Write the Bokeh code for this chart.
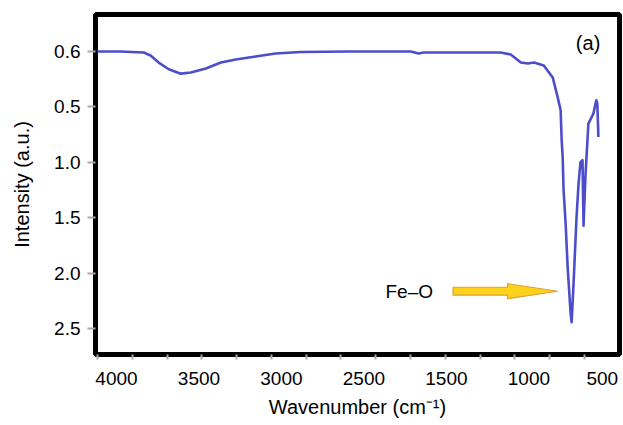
import numpy as np
from bokeh.plotting import figure
from bokeh.models import Range1d, FixedTicker, Label
from bokeh.embed import file_html
from bokeh.resources import INLINE

# ---- tick labels as printed on the original figure ----
X_TICK_LABELS = ["4000", "3500", "3000", "2500", "1500", "1000", "500"]
X_TICK_VALUES = [4000, 3500, 3000, 2500, 1500, 1000, 500]
# the printed axis spaces its labels evenly; their place along the axis:
X_AXIS_POS = [4000, 3500, 3000, 2500, 2000, 1500, 1055]
Y_TICK_VALUES = [0.0, 0.5, 1.0, 1.5, 2.0, 2.5]
Y_TICK_LABELS = ["0.6", "0.5", "1.0", "1.5", "2.0", "2.5"]

# ---- FTIR spectrum ----
wavenumber = [4116, 3976, 3835, 3793, 3744, 3683, 3610, 3549, 3458, 3367,
              3277, 3157, 3036, 2884, 2579, 1934, 1837, 1777, 1633, 1354,
              1171, 1110, 1049, 1006, 966, 899, 838, 804, 784, 777,
              770, 764, 750, 736, 716, 709, 696, 676, 662, 649,
              635, 628, 615, 595, 561, 541, 534, 527]
intensity = [0.00, 0.00, 0.01, 0.036, 0.10, 0.16, 0.20, 0.19, 0.153, 0.10,
             0.072, 0.045, 0.018, 0.005, 0.00, 0.00, 0.018, 0.01, 0.01, 0.01,
             0.01, 0.027, 0.10, 0.108, 0.10, 0.126, 0.234, 0.414, 0.53, 0.80,
             0.955, 1.25, 1.55, 1.95, 2.36, 2.44, 2.09, 1.50, 1.19, 1.00,
             0.98, 1.57, 1.12, 0.65, 0.56, 0.44, 0.47, 0.77]

# ---- annotations ----
ANNOT_TEXT = "Fe\u2013O"
PANEL_TEXT = "(a)"
ARROW_TAIL = 1460
ARROW_NECK = 1130
ARROW_TIP = 805
ARROW_Y = 2.16
PANEL_X = 514
PANEL_Y = -0.072

FONT = "Liberation Sans"

# mapping from wavenumber to the place on the printed axis
_src = np.array([0] + X_TICK_VALUES[::-1] + [5000], dtype=float)
_dst = np.array([610] + X_AXIS_POS[::-1] + [5000], dtype=float)


def to_axis(w):
    return np.interp(np.asarray(w, dtype=float), _src, _dst)


p = figure(width=623, height=425, output_backend="svg", toolbar_location=None,
           x_range=Range1d(4127, 951), y_range=Range1d(2.73, -0.333),
           min_border_left=95, min_border_right=4, min_border_top=14,
           min_border_bottom=71)
p.grid.visible = False
p.background_fill_color = "white"
p.border_fill_color = "white"
p.outline_line_color = "black"
p.outline_line_width = 5

# x axis
xa = p.xaxis[0]
xa.ticker = FixedTicker(ticks=X_AXIS_POS,
                        minor_ticks=list(np.linspace(4115, 1164, 15)))
xa.major_label_overrides = {pos: lbl for pos, lbl in zip(X_AXIS_POS, X_TICK_LABELS)}
xa.axis_line_color = None
xa.major_tick_line_color = None
xa.major_tick_out = 0
xa.major_tick_in = 0
xa.minor_tick_out = 5
xa.minor_tick_in = 0
xa.minor_tick_line_color = "#aaaaaa"
xa.minor_tick_line_width = 2
xa.major_label_standoff = 12
xa.major_label_text_font = FONT
xa.major_label_text_font_size = "19px"
xa.major_label_text_color = "black"
xa.axis_label = "Wavenumber (cm\u207b\u00b9)"
xa.axis_label_text_font = FONT
xa.axis_label_text_font_size = "20px"
xa.axis_label_text_font_style = "normal"
xa.axis_label_text_color = "black"
xa.axis_label_standoff = 8

# y axis
ya = p.yaxis[0]
ya.ticker = FixedTicker(ticks=Y_TICK_VALUES, minor_ticks=[])
ya.major_label_overrides = {v: lbl for v, lbl in zip(Y_TICK_VALUES, Y_TICK_LABELS)}
ya.axis_line_color = None
ya.major_tick_out = 8
ya.major_tick_in = 0
ya.major_tick_line_color = "#aaaaaa"
ya.major_tick_line_width = 2
ya.minor_tick_line_color = None
ya.major_label_standoff = 7
ya.major_label_text_font = FONT
ya.major_label_text_font_size = "19px"
ya.major_label_text_color = "black"
ya.axis_label = "Intensity (a.u.)"
ya.axis_label_text_font = FONT
ya.axis_label_text_font_size = "20px"
ya.axis_label_text_font_style = "normal"
ya.axis_label_text_color = "black"
ya.axis_label_standoff = 18

# spectrum
p.line(to_axis(wavenumber), intensity, line_color="#4d4dca", line_width=2.6,
       line_join="round")

# yellow arrow pointing to the Fe-O band
ax = to_axis([ARROW_TAIL, ARROW_NECK, ARROW_NECK, ARROW_TIP,
              ARROW_NECK, ARROW_NECK, ARROW_TAIL])
ay = [ARROW_Y - 0.036, ARROW_Y - 0.036, ARROW_Y - 0.068, ARROW_Y,
      ARROW_Y + 0.068, ARROW_Y + 0.036, ARROW_Y + 0.036]
p.patch(ax, ay, fill_color="#fcd21c", line_color="#e0a030", line_width=1.2)

p.add_layout(Label(x=float(to_axis(ARROW_TAIL)), y=ARROW_Y, x_offset=-20,
                   text=ANNOT_TEXT, text_align="right", text_baseline="middle",
                   text_font=FONT, text_font_size="19px", text_color="black"))
p.add_layout(Label(x=float(to_axis(PANEL_X)), y=PANEL_Y, text=PANEL_TEXT,
                   text_align="right", text_baseline="middle",
                   text_font=FONT, text_font_size="20px", text_color="black"))

open("out.html", "w").write(file_html(p, INLINE))
